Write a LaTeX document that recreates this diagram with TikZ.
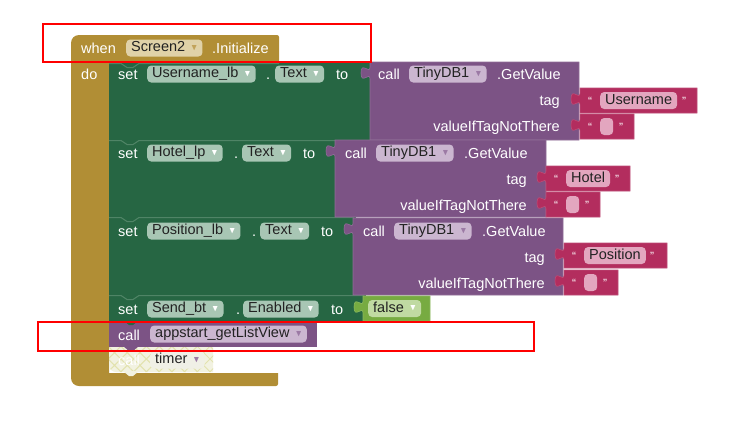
\documentclass[tikz,border=0pt]{standalone}
\usepackage{fontspec}
\setmainfont{Liberation Sans}
\usepackage{amssymb}
\usepackage{graphicx}
\usetikzlibrary{patterns.meta}

\definecolor{evgold}{HTML}{B18E35}
\definecolor{evpill}{HTML}{E0D2A8}
\definecolor{evtri}{HTML}{C2A35A}
\definecolor{setgreen}{HTML}{266643}
\definecolor{setpill}{HTML}{A8C6B4}
\definecolor{sethl}{HTML}{4F8466}
\definecolor{callpurple}{HTML}{7C5385}
\definecolor{callpill}{HTML}{CBB6D0}
\definecolor{calltri}{HTML}{9C7AA5}
\definecolor{textred}{HTML}{B32D5E}
\definecolor{textpill}{HTML}{E3A6BF}
\definecolor{logicgreen}{HTML}{77AB41}
\definecolor{logicpill}{HTML}{C0DAA2}
\definecolor{disbg}{HTML}{F2F2E1}
\definecolor{dishatch}{HTML}{E2E2AE}
\definecolor{dispill}{HTML}{F0F0E6}
\definecolor{pilltext}{HTML}{222222}

% dropdown arrow inside a field
\newcommand{\dd}[1]{\hspace{6pt}\textcolor{#1}{\raisebox{1.5pt}{\scalebox{0.6}{$\blacktriangledown$}}}\hspace{5pt}}
% value block with its plug on the left: colour, x1, y1, x2, y2
\newcommand{\valblock}[5]{%
  \filldraw[fill=#1, draw=#1!85!white, line width=0.6pt] (#2,#3) -- (#4,#3) -- (#4,#5) -- (#2,#5) -- (#2,#3+17)
    .. controls (#2,#3+9) and (#2-9,#3+23.4) .. (#2-9,#3+11)
    .. controls (#2-9,#3-1.4) and (#2,#3+13) .. (#2,#3+5) -- cycle;}

\begin{document}
\begin{tikzpicture}[x=1pt,y=-1pt,font=\fontsize{14.5}{17}\selectfont,
    lbl/.style={text=white, anchor=base west, inner sep=0pt},
    lblr/.style={text=white, anchor=base east, inner sep=0pt},
    qt/.style={text=white, anchor=base, inner sep=0pt, font=\fontsize{12}{13}\selectfont},
    pill/.style={anchor=west, rounded corners=4pt, inner xsep=5pt, inner ysep=0pt,
      minimum height=17pt, text height=10.5pt, text depth=3pt, text=pilltext},
    hl/.style={draw=sethl, line width=1pt},
    redbox/.style={draw=red, line width=2.5pt}]
\useasboundingbox (0,0) rectangle (748,429);

% when Screen2.Initialize
\fill[evgold] (150,35) [rounded corners=2] -- (279,35) -- (279,63) [sharp corners] -- (109,63) -- (109,373)
  -- (278,373) [rounded corners=2] -- (278,386) [rounded corners=8] -- (71,386) -- (71,35) -- cycle;
\node[lbl] (when) at (81,53) {when};
\node[pill, fill=evpill] (scr) at (126,48) {Screen2\dd{evtri}};
\node[lbl] (init) at (212,53) {.Initialize};
\node[lbl] (do) at (81,79) {do};

% set blocks
\fill[setgreen] (109,63) rectangle (372,140);
\fill[setgreen] (109,140) rectangle (338,217);
\fill[setgreen] (109,217) rectangle (356,295);
\fill[setgreen] (109,295) rectangle (366,321);
\draw[hl] (109,63.5) -- (121,63.5) -- (127,67.5) -- (133,67.5) -- (139,63.5) -- (279,63.5);
\draw[hl] (109,140.5) -- (121,140.5) -- (127,144.5) -- (133,144.5) -- (139,140.5) -- (336,140.5);
\draw[hl] (109,217.5) -- (121,217.5) -- (127,221.5) -- (133,221.5) -- (139,217.5) -- (354,217.5);
\draw[hl] (109,295.5) -- (121,295.5) -- (127,299.5) -- (133,299.5) -- (139,295.5) -- (364,295.5);

\node[lbl] (set1) at (118,79) {set};
\node[pill, fill=setpill] (comp1) at (147,74) {Username\_lb\dd{white}};
\node[lbl] (dot1) at (266,79) {.};
\node[pill, fill=setpill] (prop1) at (275,74) {Text\dd{white}};
\node[lbl] (to1) at (336,79) {to};

\node[lbl] (set2) at (118,158) {set};
\node[pill, fill=setpill] (comp2) at (147,153) {Hotel\_lp\dd{white}};
\node[lbl] (dot2) at (234,158) {.};
\node[pill, fill=setpill] (prop2) at (242,153) {Text\dd{white}};
\node[lbl] (to2) at (303,158) {to};

\node[lbl] (set3) at (118,236) {set};
\node[pill, fill=setpill] (comp3) at (147,231) {Position\_lb\dd{white}};
\node[lbl] (dot3) at (252,236) {.};
\node[pill, fill=setpill] (prop3) at (260,231) {Text\dd{white}};
\node[lbl] (to3) at (321,236) {to};

\node[lbl] (set4) at (118,314) {set};
\node[pill, fill=setpill] (comp4) at (147,309) {Send\_bt\dd{white}};
\node[lbl] (dot4) at (236,314) {.};
\node[pill, fill=setpill] (prop4) at (243,309) {Enabled\dd{white}};
\node[lbl] (to4) at (331,314) {to};

% TinyDB1.GetValue calls
\valblock{callpurple}{370}{62}{579}{140}
\valblock{callpurple}{335}{140}{546}{217}
\valblock{callpurple}{353}{218}{563}{295}

\node[lbl] (call1) at (378,79) {call};
\node[pill, fill=callpill] (db1) at (409,74) {TinyDB1\dd{calltri}};
\node[lbl] (get1) at (497,79) {.GetValue};
\node[lblr] (tag1) at (560,105) {tag};
\node[lblr] (vtn1) at (560,131) {valueIfTagNotThere};

\node[lbl] (call2) at (345,158) {call};
\node[pill, fill=callpill] (db2) at (376,153) {TinyDB1\dd{calltri}};
\node[lbl] (get2) at (464,158) {.GetValue};
\node[lblr] (tag2) at (527,184) {tag};
\node[lblr] (vtn2) at (527,210) {valueIfTagNotThere};

\node[lbl] (call3) at (363,236) {call};
\node[pill, fill=callpill] (db3) at (394,231) {TinyDB1\dd{calltri}};
\node[lbl] (get3) at (482,236) {.GetValue};
\node[lblr] (tag3) at (545,262) {tag};
\node[lblr] (vtn3) at (545,288) {valueIfTagNotThere};

% text strings
\valblock{textred}{580}{88}{697}{113}
\valblock{textred}{580}{114}{634}{139}
\valblock{textred}{546}{166}{630}{191}
\valblock{textred}{546}{192}{600}{217}
\valblock{textred}{564}{243}{667}{268}
\valblock{textred}{564}{270}{618}{295}

\node[qt] (lq1) at (590,105.5) {“};
\node[pill, fill=textpill] (str1) at (600,100.5) {Username};
\node[qt] (rq1) at (684,105.5) {”};
\node[qt] (lq2) at (590,131.5) {“};
\node[pill, fill=textpill, minimum width=13pt, inner xsep=0pt] (str2) at (600,126.5) {};
\node[qt] (rq2) at (621,131.5) {”};

\node[qt] (lq3) at (556,183.5) {“};
\node[pill, fill=textpill] (str3) at (566,178.5) {Hotel};
\node[qt] (rq3) at (617,183.5) {”};
\node[qt] (lq4) at (556,209.5) {“};
\node[pill, fill=textpill, minimum width=13pt, inner xsep=0pt] (str4) at (566,204.5) {};
\node[qt] (rq4) at (587,209.5) {”};

\node[qt] (lq5) at (574,260.5) {“};
\node[pill, fill=textpill] (str5) at (584,255.5) {Position};
\node[qt] (rq5) at (652,260.5) {”};
\node[qt] (lq6) at (574,287.5) {“};
\node[pill, fill=textpill, minimum width=13pt, inner xsep=0pt] (str6) at (584,282.5) {};
\node[qt] (rq6) at (605,287.5) {”};

% false
\valblock{logicgreen}{363}{296}{430}{321}
\node[pill, fill=logicpill] (false) at (368,308.5) {false\dd{white}};

% call appstart_getListView
\fill[callpurple] (109,321) rectangle (317,347);
\fill[setgreen] (123,320) -- (129,325) -- (133,325) -- (139,320) -- cycle;
\node[lbl] (call4) at (118,340) {call};
\node[pill, fill=callpill] (proc1) at (150,334) {appstart\_getListView\dd{calltri}};

% call timer (disabled)
\fill[disbg] (109,347) -- (213,347) -- (213,372) [rounded corners=7] -- (109,372) [sharp corners] -- (109,347) -- cycle;
\fill[pattern={Hatch[angle=45,distance=9pt,line width=1pt]}, pattern color=dishatch]
  (109,347) -- (213,347) -- (213,372) [rounded corners=7] -- (109,372) [sharp corners] -- (109,347) -- cycle;
\fill[callpurple] (123,346) -- (129,351) -- (133,351) -- (139,346) -- cycle;
\fill[disbg] (123,371) -- (129,376) -- (133,376) -- (139,371) -- cycle;
\node[lbl] (call5) at (118,365) {call};
\node[pill, fill=dispill] (proc2) at (150,360) {timer\dd{calltri}};

% highlights
\draw[redbox] (43,24) rectangle (371,62);
\draw[redbox] (38,322) rectangle (534,351);
\end{tikzpicture}
\end{document}
